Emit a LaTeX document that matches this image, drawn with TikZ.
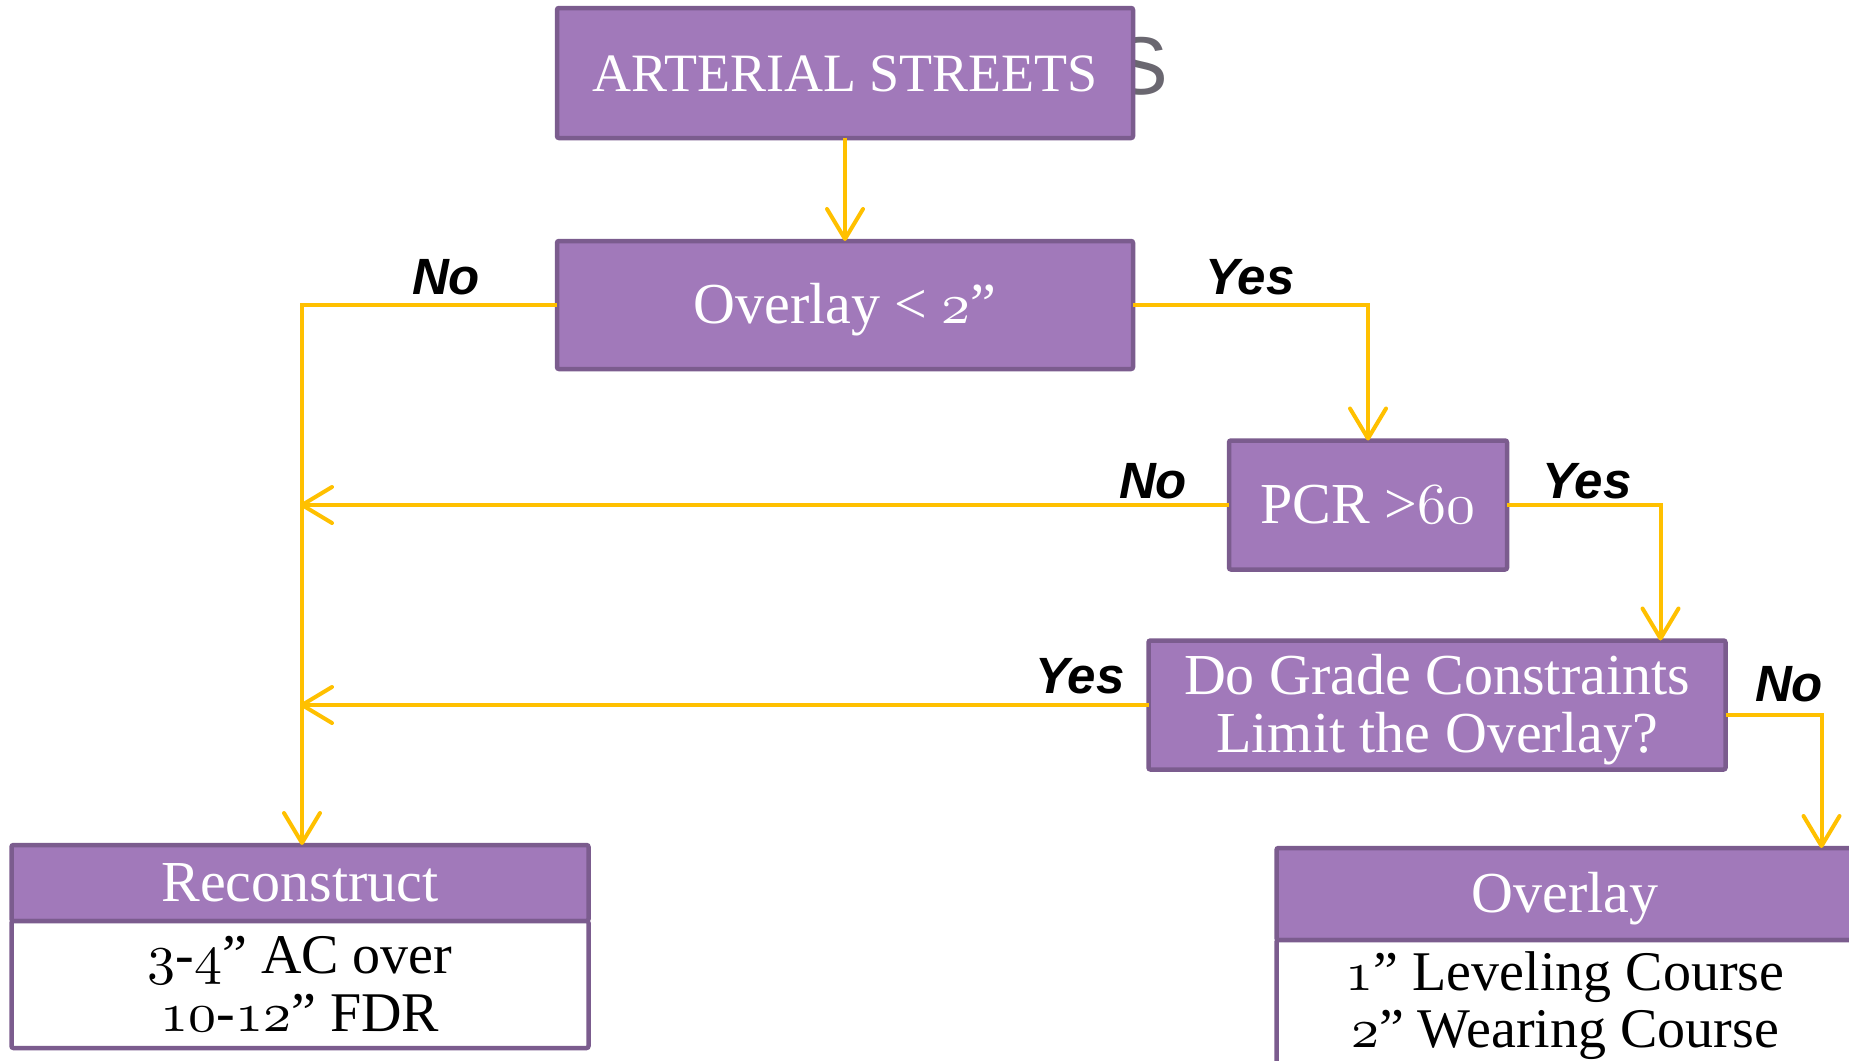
\documentclass[tikz,border=0pt]{standalone}
\usepackage{fontspec}
\setmainfont{Liberation Serif}
\newfontfamily\labfont{Liberation Sans}
\usetikzlibrary{arrows.meta,calc}
\definecolor{boxfill}{RGB}{161,121,186}
\definecolor{boxline}{RGB}{123,92,142}
\definecolor{arrowc}{RGB}{255,192,0}
\definecolor{titlegray}{RGB}{106,103,112}
\DeclareFontFamily{OML}{myosf}{}
\DeclareFontShape{OML}{myosf}{m}{it}{<-> cmmi10}{}
\newcommand\osf[1]{{\usefont{OML}{myosf}{m}{it}#1}}
\tikzset{
  pbox/.style={draw=boxline, fill=boxfill, line width=4.5pt, rounded corners=2pt, text=white, font=\fontsize{58}{59}\selectfont, align=center, inner sep=0pt, outer sep=0pt, text height=36pt, text depth=0pt},
  wbox/.style={draw=boxline, fill=white, line width=4.5pt, rounded corners=2pt, inner sep=0pt, outer sep=0pt},
  wtext/.style={anchor=base, inner sep=0pt, text=white, font=\fontsize{58}{59}\selectfont},
  btext/.style={anchor=base, inner sep=0pt, text=black, font=\fontsize{56}{59}\selectfont},
  conn/.style={draw=arrowc, line width=4pt},
  arr/.style={conn, -{Straight Barb[length=30pt,width=36pt,round]}},
  lbl/.style={font=\labfont\bfseries\itshape\fontsize{51}{51}\selectfont, text=black, inner sep=0pt},
}
\begin{document}
\begin{tikzpicture}[x=1pt,y=-1pt]
\useasboundingbox (0,0) rectangle (1849,1060);
\clip (0,0) rectangle (1849,1060);
\node[font=\labfont\fontsize{82}{82}\selectfont, text=titlegray, anchor=base east, inner sep=0pt] (ttl) at (1168,94) {S};
\node[pbox, minimum width=576pt, minimum height=130pt, font=\fontsize{54}{59}\selectfont] (top) at (845,73) {ARTERIAL STREETS};
\node[pbox, minimum width=576pt, minimum height=128pt] (ov2) at (845,305) {Overlay < \osf{2}”};
\node[pbox, minimum width=278pt, minimum height=129pt] (pcr) at (1368,505) {PCR >\osf{60}};
\node[pbox, minimum width=577pt, minimum height=129pt] (grade) at (1437,705) {};
\node[wtext] (gt1) at ($(grade.center)+(0,-11)$) {Do Grade Constraints};
\node[wtext] (gt2) at ($(grade.center)+(0,47)$) {Limit the Overlay?};
\node[pbox, minimum width=577pt, minimum height=76pt] (rec) at (300,883) {Reconstruct};
\node[wbox, minimum width=577pt, minimum height=127pt, anchor=north] (recb) at (rec.south) {};
\node[btext] (rt1) at ($(recb.center)+(0,-11)$) {\osf{3}-\osf{4}” AC over};
\node[btext] (rt2) at ($(recb.center)+(0,47)$) {\osf{10}-\osf{12}” FDR};
\node[pbox, minimum width=577pt, minimum height=92pt] (ovl) at (1565,894) {Overlay};
\node[wbox, minimum width=577pt, minimum height=127pt, anchor=north] (ovlb) at (ovl.south) {};
\node[btext] (ot1) at ($(ovlb.center)+(0,-13)$) {\osf{1}” Leveling Course};
\node[btext] (ot2) at ($(ovlb.center)+(0,44)$) {\osf{2}” Wearing Course};

\draw[arr] (top.south) -- (ov2.north);
\draw[arr] (ov2.west) -| ([xshift=2pt]rec.north);
\draw[arr] (ov2.east) -| (pcr.north);
\draw[arr] (pcr.west) -- (pcr.west -| rec.north);
\draw[arr] (pcr.east) -| ([xshift=-65pt]grade.north east);
\draw[arr] (grade.west) -- (grade.west -| rec.north);
\draw[arr] ([yshift=-10pt]grade.east) -| ([xshift=-32pt]ovl.north east);

\node[lbl] (l1) at (446,277) {No};
\node[lbl] (l2) at (1250,277) {Yes};
\node[lbl] (l3) at (1153,481) {No};
\node[lbl] (l4) at (1587,481) {Yes};
\node[lbl] (l5) at (1080,676) {Yes};
\node[lbl] (l6) at (1789,684) {No};
\end{tikzpicture}
\end{document}
